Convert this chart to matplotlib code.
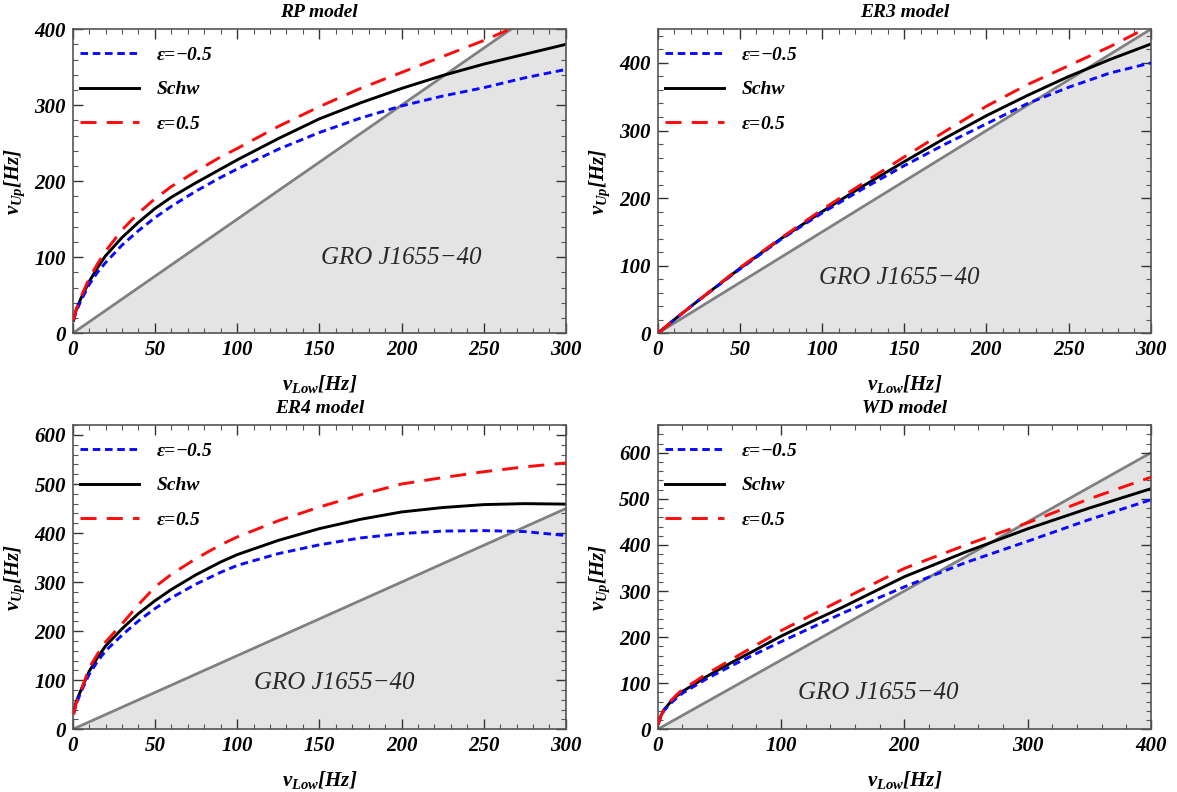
import numpy as np
import matplotlib; matplotlib.use("Agg")
import matplotlib.pyplot as plt
from matplotlib.ticker import MultipleLocator

BLUE, RED, GREY, FILL = "#0a0aff", "#ff0a0a", "#808080", "#e4e4e4"
RATIO = 1.5  # 3:2 resonance line

# ---- RP model ----
RP_X = [0.5, 2, 5, 10, 15, 20, 30, 40, 50, 60, 75, 90, 100, 125, 150, 175, 200, 225, 250, 275, 300]
RP_NEG = [17, 28, 43, 64, 80, 93, 116, 135, 152, 167, 187, 205, 216, 242, 264, 283, 299, 312, 323, 336, 347]
RP_SCHW = [17, 30, 46, 68, 86, 102, 126, 146, 164, 179, 198, 216, 228, 256, 282, 303, 322, 339, 354, 367, 380]
RP_XP = [0.5, 2, 5, 10, 15, 20, 30, 40, 50, 60, 75, 90, 100, 125, 150, 175, 200, 225, 250, 268]
RP_POS = [17, 31, 48, 72, 91, 108, 136, 158, 177, 193, 213, 232, 243, 272, 298, 322, 343, 364, 385, 402]

# ---- ER3 model ----
ER3_X = [0.5, 10, 25, 50, 75, 100, 125, 150, 175, 200, 225, 250, 275, 300]
ER3_NEG = [1, 20, 49, 95, 139, 178, 214, 248, 280, 310, 340, 364, 385, 400]
ER3_SCHW = [1, 20, 49, 96, 140, 180, 218, 254, 289, 322, 352, 380, 405, 428]
ER3_XP = [0.5, 10, 25, 50, 75, 100, 125, 150, 175, 200, 225, 250, 275, 296]
ER3_POS = [1, 20, 49, 97, 141, 183, 222, 261, 299, 336, 368, 396, 424, 450]

# ---- ER4 model ----
ER4_X = [0.5, 2, 5, 10, 15, 20, 30, 40, 50, 60, 75, 90, 100, 125, 150, 175, 200, 225, 250, 275, 300]
ER4_NEG = [32, 50, 76, 112, 138, 160, 192, 221, 246, 268, 296, 320, 334, 358, 376, 390, 399, 404, 405, 403, 395]
ER4_SCHW = [34, 55, 80, 118, 146, 170, 205, 236, 262, 285, 315, 341, 356, 385, 409, 428, 443, 452, 458, 460, 459]
ER4_POS = [30, 52, 78, 125, 153, 178, 215, 254, 290, 316, 348, 376, 392, 425, 453, 478, 500, 513, 525, 535, 543]

# ---- WD model ----
WD_X = [0.5, 2, 5, 10, 15, 20, 30, 40, 50, 60, 75, 100, 125, 150, 200, 250, 300, 350, 400]
WD_NEG = [12, 24, 40, 55, 67, 78, 94, 110, 124, 138, 158, 190, 221, 252, 309, 362, 408, 455, 498]
WD_SCHW = [14, 26, 42, 58, 71, 82, 98, 115, 130, 145, 166, 202, 234, 265, 331, 385, 435, 480, 522]
WD_POS = [10, 25, 43, 60, 74, 86, 103, 121, 136, 152, 175, 214, 248, 282, 349, 400, 448, 500, 547]

SERIF = ["Liberation Serif", "DejaVu Serif"]
plt.rcParams.update({
    "font.family": SERIF,
    "font.weight": "bold", "font.style": "italic",
    "axes.titleweight": "bold", "axes.labelweight": "bold",
    "mathtext.fontset": "custom",
    "mathtext.it": "Liberation Serif:italic:bold",
    "mathtext.rm": "Liberation Serif:italic:bold",
    "mathtext.bf": "Liberation Serif:italic:bold",
    "xtick.direction": "in", "ytick.direction": "in",
    "xtick.top": True, "ytick.right": True,
    "axes.edgecolor": "#555555", "axes.linewidth": 1.2,
})

fig = plt.figure(figsize=(11.77, 7.92), dpi=100)
W, H = 0.419, 0.384
rects = [(0.0618, 0.5792, W, H), (0.5588, 0.5792, W, H),
         (0.0618, 0.0792, W, H), (0.5588, 0.0792, W, H)]

panels = [
    ("RP model", 300, 400, 50, 10, (RP_X, RP_NEG), (RP_X, RP_SCHW), (RP_XP, RP_POS), (200, 99)),
    ("ER3 model", 300, 450, 50, 10, (ER3_X, ER3_NEG), (ER3_X, ER3_SCHW), (ER3_XP, ER3_POS), (147, 82)),
    ("ER4 model", 300, 620, 50, 10, (ER4_X, ER4_NEG), (ER4_X, ER4_SCHW), (ER4_X, ER4_POS), (159, 94)),
    ("WD model", 400, 660, 100, 20, (WD_X, WD_NEG), (WD_X, WD_SCHW), (WD_X, WD_POS), (179, 79)),
]

for rect, (title, xmax, ymax, xmaj, xmin, neg, schw, pos, gro) in zip(rects, panels):
    ax = fig.add_axes(rect)
    xs = np.array([0, xmax])
    ax.fill_between(xs, 0, RATIO * xs, color=FILL, lw=0, zorder=0)
    ax.plot(xs, RATIO * xs, color=GREY, lw=2.0, zorder=1)
    ax.plot(*neg, color=BLUE, lw=2.1, dashes=(2.6, 1.6), label=r"$\epsilon$=−0.5", zorder=3)
    ax.plot(*schw, color="black", lw=2.1, label="Schw", zorder=2)
    ax.plot(*pos, color=RED, lw=2.1, dashes=(5.5, 3.5), label=r"$\epsilon$=0.5", zorder=4)
    ax.text(gro[0], gro[1], "GRO J1655−40", fontsize=18, fontweight="normal",
            style="italic", color="#2a2a2a", ha="center", va="center")
    ax.set_xlim(0, xmax); ax.set_ylim(0, ymax)
    ax.xaxis.set_major_locator(MultipleLocator(xmaj))
    ax.xaxis.set_minor_locator(MultipleLocator(xmin))
    ax.yaxis.set_major_locator(MultipleLocator(100))
    ax.yaxis.set_minor_locator(MultipleLocator(20))
    ax.tick_params(which="major", length=7, width=1.0, color="#333333", pad=5)
    ax.tick_params(which="minor", length=3.5, width=0.8, color="#555555")
    for lbl in ax.get_xticklabels() + ax.get_yticklabels():
        lbl.set_fontsize(15); lbl.set_fontweight("bold"); lbl.set_fontstyle("italic")
    ax.set_title(title, fontsize=14, pad=9)
    ax.set_xlabel(r"$\nu_{Low}[Hz]$", fontsize=15, labelpad=9)
    ax.set_ylabel(r"$\nu_{Up}[Hz]$", fontsize=15, labelpad=5)
    ax.legend(loc="upper left", bbox_to_anchor=(-0.02, 1.0), frameon=False,
              handlelength=3.0, handletextpad=0.9, labelspacing=0.85,
              prop=dict(family=SERIF, weight="bold", style="italic", size=14))

fig.savefig("out.png", dpi=100)
